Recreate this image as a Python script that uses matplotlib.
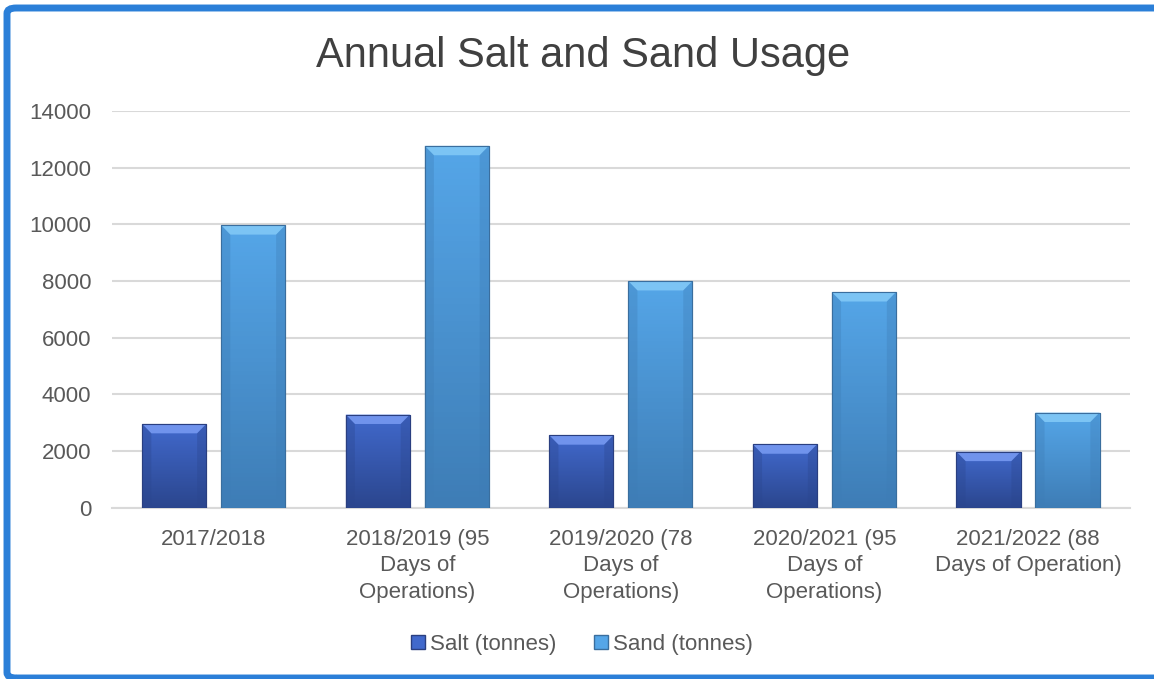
import matplotlib.pyplot as plt
import numpy as np
from matplotlib.colors import LinearSegmentedColormap
from matplotlib.patches import Patch, Polygon, FancyBboxPatch

categories = ["2017/2018", "2018/2019 (95\nDays of\nOperations)", "2019/2020 (78\nDays of\nOperations)",
              "2020/2021 (95\nDays of\nOperations)", "2021/2022 (88\nDays of Operation)"]
salt = [2960, 3290, 2560, 2240, 1980]
sand = [9970, 12770, 8000, 7610, 3360]
series_names = ["Salt (tonnes)", "Sand (tonnes)"]

plt.rcParams["font.family"] = ["Liberation Sans", "DejaVu Sans"]
txt = "#595959"

fig = plt.figure(figsize=(11.54, 6.79), dpi=100)
ax = fig.add_axes([0.097, 0.252, 0.882, 0.5845])

x = np.arange(len(categories))
w = 0.315
off = 0.194

styles = [
    dict(top="#4169CC", bottom="#2B468E", bevel="#7093EC", edge="#2A3F80"),
    dict(top="#55A6E8", bottom="#3E7DB6", bevel="#7CC4F4", edge="#3A6E9E"),
]

grad = np.linspace(0, 1, 64).reshape(-1, 1)
dx, dy = 0.045, 330
for vals, sign, st in [(salt, -1, styles[0]), (sand, 1, styles[1])]:
    bars = ax.bar(x + sign * off, vals, width=w, color=st["top"], edgecolor=st["edge"], linewidth=0.8, zorder=3)
    cmap = LinearSegmentedColormap.from_list("g", [st["top"], st["bottom"]])
    for b in bars:
        x0, h, bw = b.get_x(), b.get_height(), b.get_width()
        x1 = x0 + bw
        im = ax.imshow(grad, extent=[x0, x1, 0, h], aspect="auto", cmap=cmap, zorder=3.1, origin="upper")
        im.set_clip_path(b)
        ax.add_patch(Polygon([(x0, h), (x1, h), (x1 - dx, h - dy), (x0 + dx, h - dy)],
                             closed=True, facecolor=st["bevel"], edgecolor="none", zorder=3.2))
        ax.add_patch(Polygon([(x0, h), (x0 + dx, h - dy), (x0 + dx, 0), (x0, 0)],
                             closed=True, facecolor=st["bottom"], alpha=0.35, edgecolor="none", zorder=3.2))
        ax.add_patch(Polygon([(x1, h), (x1 - dx, h - dy), (x1 - dx, 0), (x1, 0)],
                             closed=True, facecolor=st["bottom"], alpha=0.35, edgecolor="none", zorder=3.2))
        ax.add_patch(Polygon([(x0, 0), (x1, 0), (x1, h), (x0, h)], closed=True, fill=False,
                             edgecolor=st["edge"], linewidth=0.8, zorder=3.3))

ax.set_xlim(-0.5, len(categories) - 0.5)
ax.set_ylim(0, 14000)
ax.set_yticks(range(0, 14001, 2000))
ax.set_xticks(x)
ax.set_xticklabels(categories, fontsize=16, color=txt, linespacing=1.35)
ax.tick_params(axis="y", labelsize=16, labelcolor=txt, length=0, pad=15)
ax.tick_params(axis="x", length=0, pad=15)
ax.grid(axis="y", color="#D9D9D9", linewidth=1.5, zorder=0)
ax.set_axisbelow(True)
for s in ["top", "right", "left"]:
    ax.spines[s].set_visible(False)
ax.spines["bottom"].set_color("#D9D9D9")
ax.spines["bottom"].set_linewidth(1.5)

fig.text(0.505, 0.917, "Annual Salt and Sand Usage", ha="center", va="center", fontsize=30, color="#404040")

handles = [Patch(facecolor=styles[0]["top"], edgecolor=styles[0]["edge"]),
           Patch(facecolor=styles[1]["top"], edgecolor=styles[1]["edge"])]
fig.legend(handles, series_names, loc="center", bbox_to_anchor=(0.504, 0.051), ncol=2, frameon=False,
           fontsize=16, labelcolor=txt, handlelength=0.65, handleheight=0.65, handletextpad=0.2,
           columnspacing=1.7)

border = FancyBboxPatch((7 / 1154, 1 / 679), 1.2, 670 / 679, boxstyle="round,pad=0,rounding_size=0.008",
                        transform=fig.transFigure, fill=False, edgecolor="#2B7FD8", linewidth=5, zorder=10)
fig.patches.append(border)

fig.savefig("out.png", dpi=100)
